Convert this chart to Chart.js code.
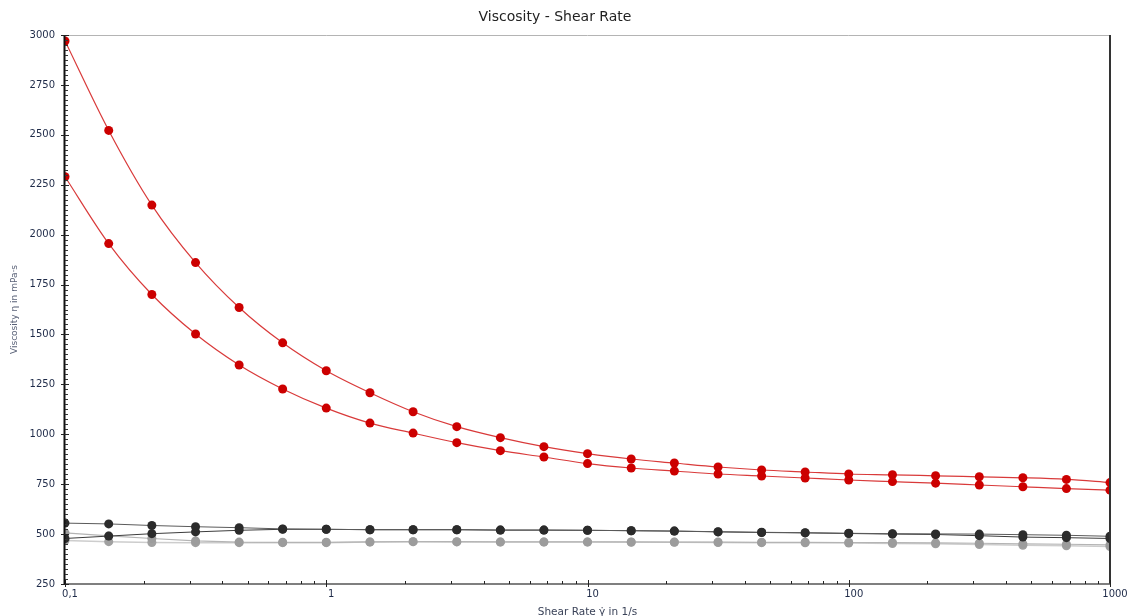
<!DOCTYPE html>
<html>
<head>
<meta charset="utf-8">
<title>Viscosity - Shear Rate</title>
<script src="https://cdn.jsdelivr.net/npm/chart.js@4"></script>
<style>
  html, body { margin: 0; padding: 0; background: #fff; }
  #wrap { width: 1131px; height: 616px; position: relative; }
</style>
</head>
<body>
<div id="wrap"><canvas id="viscosityChart"></canvas></div>
<script>
// Shear rate steps (1/s), six per decade
const shearRate = [0.1, 0.147, 0.215, 0.316, 0.464, 0.681, 1, 1.47, 2.15, 3.16, 4.64, 6.81,
    10, 14.7, 21.5, 31.6, 46.4, 68.1, 100, 147, 215, 316, 464, 681, 1000];

// Viscosity in mPa·s
const redUpper = [2970, 2522, 2148, 1860, 1635, 1458, 1318, 1208, 1113, 1038, 983, 938,
    903, 876, 856, 836, 821, 811, 801, 797, 792, 787, 782, 774, 758];
const redLower = [2290, 1955, 1700, 1502, 1347, 1227, 1131, 1056, 1006, 958, 918, 886,
    853, 831, 816, 801, 791, 781, 771, 763, 755, 746, 737, 728, 720];
const darkUpper = [555, 551, 543, 537, 532, 526, 524, 522, 522, 522, 520, 520,
    519, 517, 515, 512, 509, 507, 504, 502, 501, 500, 497, 494, 489];
const darkLower = [478, 490, 502, 511, 519, 524, 524, 522, 522, 522, 520, 520,
    519, 517, 515, 511, 508, 506, 503, 500, 498, 492, 485, 482, 478];
const greyUpper = [506, 491, 478, 466, 460, 459, 459, 461, 462, 462, 461, 461,
    461, 461, 460, 460, 459, 459, 458, 457, 456, 454, 451, 449, 446];
const greyLower = [468, 462, 458, 457, 457, 457, 457, 460, 462, 461, 460, 460,
    460, 459, 459, 458, 457, 456, 455, 453, 451, 448, 444, 441, 438];

// Axis ticks
const xTickValues = [0.1, 1, 10, 100, 1000];
const xTickLabels = ['0,1', '1', '10', '100', '1000'];
const yTickValues = [250, 500, 750, 1000, 1250, 1500, 1750, 2000, 2250, 2500, 2750, 3000];

const toPoints = (ys) => shearRate.map((x, i) => ({ x: x, y: ys[i] }));

function series(data, pointColor, lineColor, width, tension) {
    return {
        data: toPoints(data),
        borderColor: lineColor,
        borderWidth: width,
        backgroundColor: pointColor,
        pointBackgroundColor: pointColor,
        pointBorderColor: pointColor,
        pointBorderWidth: 0,
        pointRadius: 4.5,
        pointHoverRadius: 4.5,
        tension: tension,
        cubicInterpolationMode: tension ? 'monotone' : 'default',
        clip: 0
    };
}

// Frame, axis lines and tick marks, drawn over the datasets
const axisFrame = {
    id: 'axisFrame',
    afterDraw(chart) {
        const { ctx, chartArea: a, scales } = chart;
        const xs = scales.x, ys = scales.y;
        ctx.save();

        // top border
        ctx.strokeStyle = '#b4b4b4';
        ctx.lineWidth = 1;
        ctx.beginPath();
        ctx.moveTo(a.left, a.top + 0.5);
        ctx.lineTo(a.right, a.top + 0.5);
        ctx.stroke();

        // right border
        ctx.strokeStyle = '#333';
        ctx.lineWidth = 2;
        ctx.beginPath();
        ctx.moveTo(a.right, a.top);
        ctx.lineTo(a.right, a.bottom);
        ctx.stroke();

        // bottom axis
        ctx.strokeStyle = '#555';
        ctx.lineWidth = 1.5;
        ctx.beginPath();
        ctx.moveTo(a.left, a.bottom);
        ctx.lineTo(a.right, a.bottom);
        ctx.stroke();

        // x ticks: majors cross the axis, minors point up
        ctx.strokeStyle = '#222';
        ctx.lineWidth = 1;
        for (let i = 0; i < xTickValues.length; i++) {
            const px = Math.round(xs.getPixelForValue(xTickValues[i])) + 0.5;
            ctx.beginPath();
            ctx.moveTo(px, a.bottom - 4);
            ctx.lineTo(px, a.bottom + 3);
            ctx.stroke();
            if (i === xTickValues.length - 1) break;
            for (let m = 2; m <= 9; m++) {
                const mx = Math.round(xs.getPixelForValue(xTickValues[i] * m)) + 0.5;
                ctx.beginPath();
                ctx.moveTo(mx, a.bottom - 3);
                ctx.lineTo(mx, a.bottom);
                ctx.stroke();
            }
        }

        // left axis
        ctx.strokeStyle = '#111';
        ctx.lineWidth = 2;
        ctx.beginPath();
        ctx.moveTo(a.left - 0.5, a.top);
        ctx.lineTo(a.left - 0.5, a.bottom);
        ctx.stroke();

        // y ticks: minors every 25 inside, majors outside
        ctx.lineWidth = 1;
        for (let v = ys.min; v <= ys.max; v += 25) {
            const py = Math.round(ys.getPixelForValue(v)) + 0.5;
            const major = v % 250 === 0;
            ctx.strokeStyle = major ? '#222' : '#333';
            ctx.beginPath();
            ctx.moveTo(a.left - (major ? 4 : 0), py);
            ctx.lineTo(a.left + (major ? 4 : 3), py);
            ctx.stroke();
        }
        ctx.restore();
    }
};

const chartCanvas = document.getElementById('viscosityChart');

new Chart(chartCanvas, {
    type: 'line',
    data: {
        datasets: [
            series(redUpper, '#cc0000', '#d93a3a', 1.2, 0.4),
            series(redLower, '#cc0000', '#d93a3a', 1.2, 0.4),
            series(darkUpper, '#2b2b2b', '#5a5a5a', 1, 0),
            series(darkLower, '#2b2b2b', '#3c3c3c', 1, 0),
            series(greyUpper, '#9c9c9c', '#b4b4b4', 1.2, 0),
            series(greyLower, '#a0a0a0', '#cdcdcd', 1.5, 0)
        ]
    },
    options: {
        responsive: true,
        maintainAspectRatio: false,
        animation: false,
        layout: { padding: { left: 0, right: 21, top: 0, bottom: 0 } },
        plugins: {
            legend: { display: false },
            tooltip: { enabled: false },
            title: {
                display: true,
                text: 'Viscosity - Shear Rate',
                color: '#222',
                font: { family: 'DejaVu Sans', size: 14, weight: 'normal', lineHeight: 1.2 },
                padding: { top: 9, bottom: 9.2 }
            }
        },
        scales: {
            x: {
                type: 'logarithmic',
                min: 0.1,
                max: 1000,
                grid: { display: false, drawTicks: false },
                border: { display: false },
                afterBuildTicks(scale) {
                    scale.ticks = xTickValues.map(v => ({ value: v }));
                },
                afterFit(scale) { scale.height = 32; },
                ticks: {
                    autoSkip: false,
                    maxRotation: 0,
                    padding: 4,
                    labelOffset: 5,
                    color: '#1e2a48',
                    font: { family: 'DejaVu Sans', size: 10 },
                    callback: (value, index) => xTickLabels[index]
                },
                title: {
                    display: true,
                    text: 'Shear Rate \u03B3\u0307 in 1/s',
                    color: '#3a4258',
                    font: { family: 'DejaVu Sans', size: 10.5 },
                    padding: { top: 0, bottom: -3 }
                }
            },
            y: {
                type: 'linear',
                min: 250,
                max: 3000,
                grid: { display: false, drawTicks: false },
                border: { display: false },
                afterBuildTicks(scale) {
                    scale.ticks = yTickValues.map(v => ({ value: v }));
                },
                afterFit(scale) { scale.width = 65; },
                ticks: {
                    padding: 10,
                    color: '#1e2a48',
                    font: { family: 'DejaVu Sans', size: 10 },
                    callback: (value) => String(value)
                },
                title: {
                    display: true,
                    text: 'Viscosity \u03B7 in mPa\u00B7s',
                    color: '#5a6278',
                    font: { family: 'DejaVu Sans', size: 9 },
                    padding: { top: 9, bottom: 0 }
                }
            }
        }
    },
    plugins: [axisFrame]
});
</script>
</body>
</html>
